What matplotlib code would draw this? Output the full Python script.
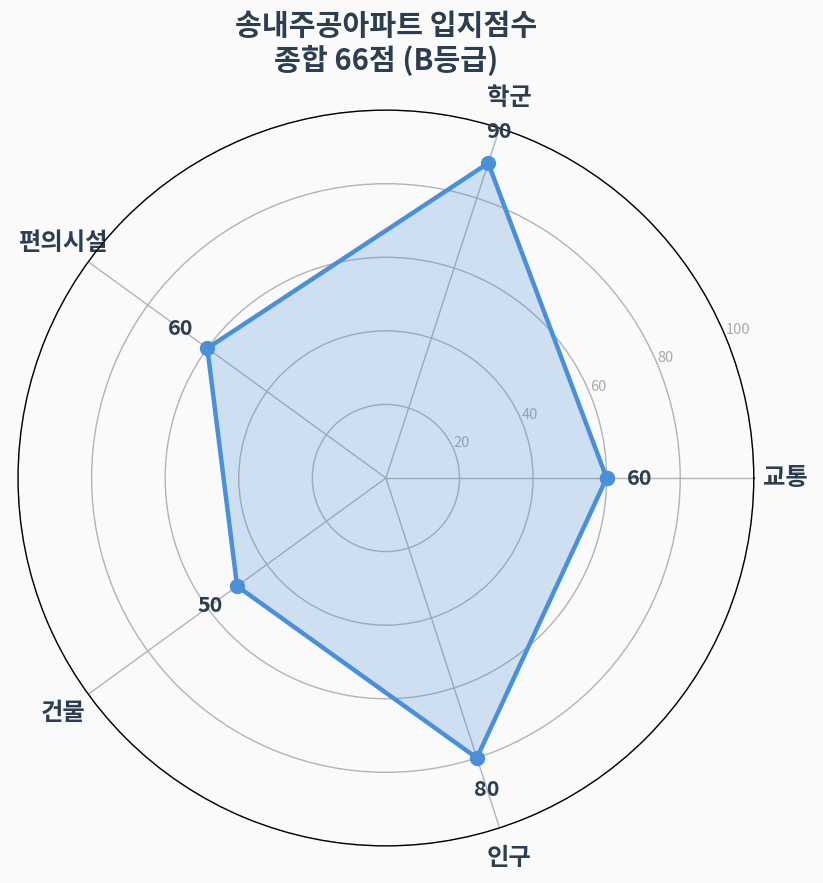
import numpy as np
import matplotlib
matplotlib.use("Agg")
from matplotlib import pyplot as plt

plt.rcParams['font.family'] = ['Noto Sans CJK KR', 'DejaVu Sans']

categories = ["교통", "학군", "편의시설", "건물", "인구"]
scores = [60, 90, 60, 50, 80]
rticks = [20, 40, 60, 80, 100]
title = "송내주공아파트 입지점수\n종합 66점 (B등급)"

navy = "#2c3e50"
blue = "#4a90d9"

n = len(categories)
angles = np.arange(n) * 2 * np.pi / n
ang_closed = np.append(angles, angles[0])
val_closed = np.append(scores, scores[0])

fig = plt.figure(figsize=(8.23, 8.83), dpi=100, facecolor="#fafafa")
ax = fig.add_axes([0.0219, 0.0419, 0.894, 0.8335], polar=True)
ax.set_facecolor("#fafafa")

ax.fill(ang_closed, val_closed, color=blue, alpha=0.25, zorder=2)
ax.plot(ang_closed, val_closed, color=blue, lw=3.2, marker="o", ms=10, zorder=3)

for a, v in zip(angles, scores):
    ax.text(a, v + 9, str(v), ha="center", va="center", fontsize=15.5,
            fontweight="bold", color=navy, zorder=4)

ax.set_ylim(0, 100)
ax.set_yticks(rticks)
ax.set_yticklabels([str(t) for t in rticks], fontsize=10.5, color="#aaaaaa")
ax.set_rlabel_position(22.5)
ax.set_xticks(angles)
ax.set_xticklabels(categories, fontsize=17.5, fontweight="bold", color=navy)
ax.tick_params(axis="x", pad=12)
ax.grid(color="#b3b3b3", lw=1.0)
ax.spines["polar"].set_color("black")
ax.spines["polar"].set_linewidth(1.0)

fig.text(0.469, 0.987, title, fontsize=21, fontweight="bold", color=navy,
         ha="center", va="top", linespacing=1.15)

fig.savefig("out.png", dpi=100, facecolor=fig.get_facecolor())
